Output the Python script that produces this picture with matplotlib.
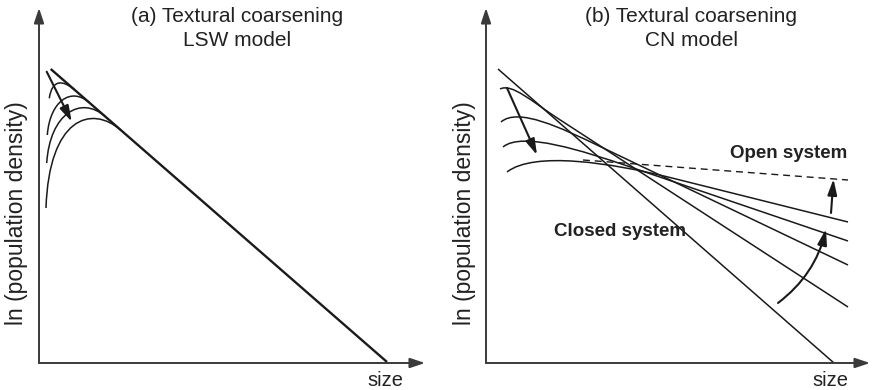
import matplotlib
matplotlib.use("Agg")
import matplotlib.pyplot as plt
from matplotlib.path import Path
from matplotlib.patches import PathPatch

plt.rcParams['font.family'] = ['Liberation Sans', 'DejaVu Sans']

INK = '#1a1a1a'
AXIS_INK = '#3a3a3a'
TEXT_INK = '#222222'

# ---- Panel (a): LSW model -------------------------------------------------
lsw_line = [(11.7, 294.0), (348.0, 1.0)]          # straight CSD (ln n vs size)
lsw_start = [(10.3, 264.7), (8.3, 228.0), (7.7, 200.0), (7.0, 155.0)]
lsw_ctrl = [(13.0, 284.0), (11.0, 262.0), (11.0, 250.0), (10.0, 245.0)]
lsw_join = [36.0, 50.0, 66.0, 82.0]               # size where each curve meets the line
lsw_lead = [12.0, 18.0, 24.0, 30.0]
lsw_arrow = [(7.7, 291.3), (32.7, 241.3)]

# ---- Panel (b): CN model --------------------------------------------------
cn_steep = [(12.0, 294.0), (348.0, 0.0)]          # initial straight CSD
cn_end_x = 362.0
cn_end_y = [56.0, 98.0, 122.0, 141.0]             # right-hand ends of the rotated CSDs
cn_slope = [-0.65, -0.478, -0.34, -0.25]
cn_start = [(14.0, 274.0), (15.0, 241.0), (17.0, 216.0), (21.0, 191.0)]
cn_ctrl = [(26.0, 280.0), (32.0, 256.0), (36.0, 232.0), (48.0, 212.0)]
cn_join = [72.0, 112.0, 142.0, 185.0]
cn_lead = [26.0, 36.0, 44.0, 60.0]
cn_open = [(97.0, 203.0), (362.0, 183.0)]         # open-system CSD (dashed)
cn_arrow_down = [(21.0, 275.0), (51.0, 208.0)]
cn_arrow_curve = [(292.0, 60.0), (340.0, 134.0)]
cn_arrow_up = [(345.0, 150.0), (347.5, 184.0)]

XMAX_A, XMAX_B, YMAX = 386.0, 384.0, 355.0

fig = plt.figure(figsize=(8.72, 3.90), dpi=100)
axA = fig.add_axes([39 / 872, 27 / 390, XMAX_A / 872, YMAX / 390])
axB = fig.add_axes([486 / 872, 27 / 390, XMAX_B / 872, YMAX / 390])


def setup(ax, xmax):
    ax.set_xlim(0, xmax)
    ax.set_ylim(0, YMAX)
    ax.axis('off')
    head = dict(arrowstyle='-|>,head_length=0.9,head_width=0.3', lw=1.4,
                color=AXIS_INK, mutation_scale=10, shrinkA=0, shrinkB=0)
    ax.annotate('', xy=(xmax, 0), xytext=(0, 0), arrowprops=head, annotation_clip=False)
    ax.annotate('', xy=(0, YMAX), xytext=(0, 0), arrowprops=head, annotation_clip=False)
    ax.text(xmax - 40, -17, 'size', fontsize=14.5, color=TEXT_INK,
            ha='center', va='center', clip_on=False)
    ax.text(-22, 150, 'ln (population density)', fontsize=16.5, color=TEXT_INK,
            rotation=90, ha='center', va='center', clip_on=False)


def joined_curve(ax, p0, c1, slope, anchor, join_x, lead, end_x, lw=1.2, ls='-'):
    """Curved small-size limb that merges tangentially into a straight CSD."""
    ax0, ay0 = anchor

    def line(x):
        return ay0 + slope * (x - ax0)

    p2 = (join_x - lead, line(join_x - lead))
    p3 = (join_x, line(join_x))
    verts = [p0, c1, p2, p3, (end_x, line(end_x))]
    codes = [Path.MOVETO, Path.CURVE4, Path.CURVE4, Path.CURVE4, Path.LINETO]
    ax.add_patch(PathPatch(Path(verts, codes), fill=False, lw=lw, ls=ls,
                           edgecolor=INK, capstyle='butt'))


def arrow(ax, pts, rad=0.0, lw=1.5):
    ax.annotate('', xy=pts[1], xytext=pts[0],
                arrowprops=dict(arrowstyle='-|>,head_length=0.95,head_width=0.28',
                                lw=lw, color=INK, mutation_scale=10,
                                shrinkA=0, shrinkB=0,
                                connectionstyle=f'arc3,rad={rad}'))


# Panel (a)
setup(axA, XMAX_A)
(lx0, ly0), (lx1, ly1) = lsw_line
lsw_slope = (ly1 - ly0) / (lx1 - lx0)
axA.plot([lx0, lx1], [ly0, ly1], color=INK, lw=1.7, solid_capstyle='butt')
for p0, c1, jx, ld in zip(lsw_start, lsw_ctrl, lsw_join, lsw_lead):
    joined_curve(axA, p0, c1, lsw_slope, (lx0, ly0), jx, ld, jx, lw=1.1)
arrow(axA, lsw_arrow)
axA.text(198, 347, '(a) Textural coarsening', fontsize=15, color=TEXT_INK,
         ha='center', va='center', clip_on=False)
axA.text(198, 323, 'LSW model', fontsize=15, color=TEXT_INK,
         ha='center', va='center', clip_on=False)

# Panel (b)
setup(axB, XMAX_B)
axB.plot(*zip(*cn_steep), color=INK, lw=1.1, solid_capstyle='butt')
for p0, c1, m, ey, jx, ld in zip(cn_start, cn_ctrl, cn_slope, cn_end_y, cn_join, cn_lead):
    joined_curve(axB, p0, c1, m, (cn_end_x, ey), jx, ld, cn_end_x, lw=1.1)
axB.plot(*zip(*cn_open), color=INK, lw=1.0, ls=(0, (5, 3.5)))
arrow(axB, cn_arrow_down)
arrow(axB, cn_arrow_curve, rad=0.18)
arrow(axB, cn_arrow_up)
axB.text(303, 210, 'Open system', fontsize=13.5, fontweight='bold', color=TEXT_INK,
         ha='center', va='center')
axB.text(134, 131, 'Closed system', fontsize=13.5, fontweight='bold', color=TEXT_INK,
         ha='center', va='center')
axB.text(205, 347, '(b) Textural coarsening', fontsize=15, color=TEXT_INK,
         ha='center', va='center', clip_on=False)
axB.text(205, 323, 'CN model', fontsize=15, color=TEXT_INK,
         ha='center', va='center', clip_on=False)

fig.savefig('out.png', dpi=100)
